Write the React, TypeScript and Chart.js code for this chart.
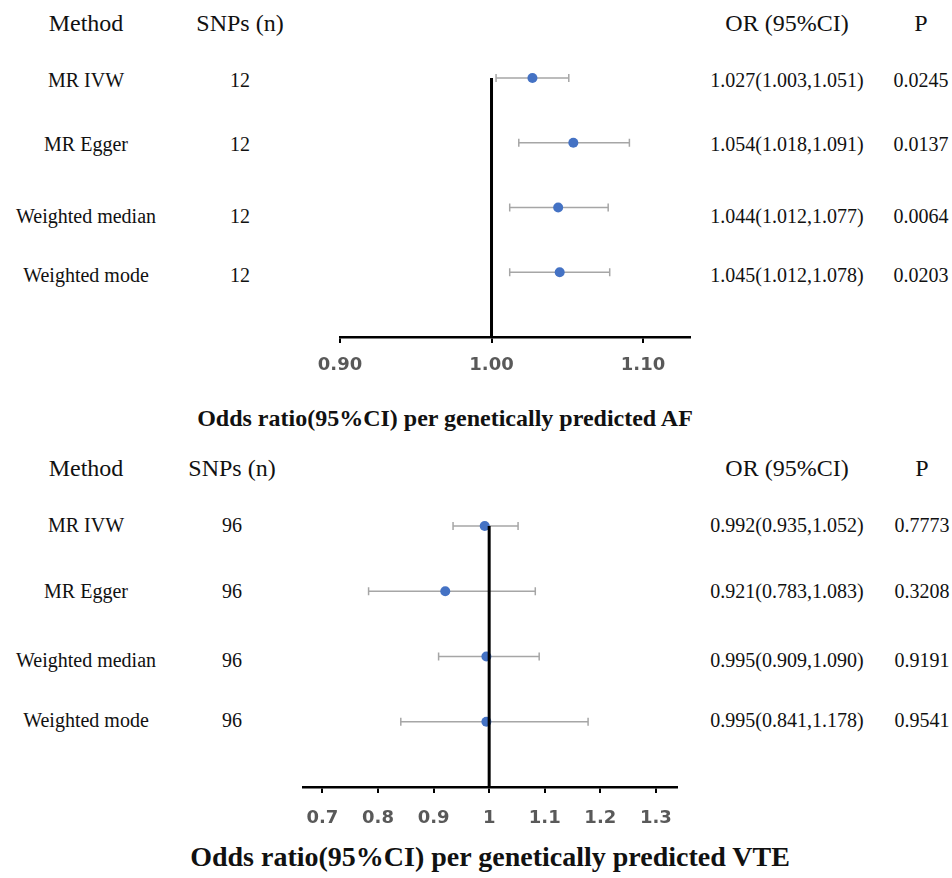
import { useEffect, useRef } from 'react';
import { Chart, registerables } from 'chart.js';

Chart.register(...registerables);

// ---------- data ----------
const methods = ['MR IVW', 'MR Egger', 'Weighted median', 'Weighted mode'];

const afSnps = ['12', '12', '12', '12'];
const afOr = [1.027, 1.054, 1.044, 1.045];
const afLower = [1.003, 1.018, 1.012, 1.012];
const afUpper = [1.051, 1.091, 1.077, 1.078];
const afOrText = ['1.027(1.003,1.051)', '1.054(1.018,1.091)', '1.044(1.012,1.077)', '1.045(1.012,1.078)'];
const afP = ['0.0245', '0.0137', '0.0064', '0.0203'];
const afTicks = [0.9, 1.0, 1.1];
const afTickLabels = ['0.90', '1.00', '1.10'];
const afTitle = 'Odds ratio(95%CI) per genetically predicted AF';

const vteSnps = ['96', '96', '96', '96'];
const vteOr = [0.992, 0.921, 0.995, 0.995];
const vteLower = [0.935, 0.783, 0.909, 0.841];
const vteUpper = [1.052, 1.083, 1.09, 1.178];
const vteOrText = ['0.992(0.935,1.052)', '0.921(0.783,1.083)', '0.995(0.909,1.090)', '0.995(0.841,1.178)'];
const vteP = ['0.7773', '0.3208', '0.9191', '0.9541'];
const vteTicks = [0.7, 0.8, 0.9, 1, 1.1, 1.2, 1.3];
const vteTickLabels = ['0.7', '0.8', '0.9', '1', '1.1', '1.2', '1.3'];
const vteTitle = 'Odds ratio(95%CI) per genetically predicted VTE';

const headers = ['Method', 'SNPs (n)', 'OR (95%CI)', 'P'];

// ---------- chart config ----------
function makeConfig(
  or: number[], lo: number[], hi: number[],
  ticks: number[], labels: string[],
  xMin: number, xMax: number,
  padTop: number, padRight: number, labelPad: number
): any {
  return {
    type: 'scatter',
    data: {
      datasets: [
        {
          data: [{ x: 1, y: 0 }, { x: 1, y: 4 }],
          showLine: true,
          borderColor: '#000',
          borderWidth: 3,
          pointRadius: 0,
          clip: false,
          order: 0,
        },
        {
          data: or.map((v, i) => ({ x: v, y: i })),
          showLine: false,
          pointRadius: 5,
          pointBackgroundColor: '#4472C4',
          pointBorderColor: '#4472C4',
          pointBorderWidth: 0,
          clip: false,
          order: 1,
        },
        ...lo.map((l, i) => ({
          data: [{ x: l, y: i }, { x: hi[i], y: i }],
          showLine: true,
          borderColor: '#A6A6A6',
          borderWidth: 1.5,
          pointStyle: 'line',
          rotation: 90,
          pointRadius: 4,
          pointBorderColor: '#A6A6A6',
          pointBorderWidth: 1.5,
          clip: false,
          order: 2,
        })),
      ],
    },
    options: {
      responsive: false,
      maintainAspectRatio: false,
      animation: false,
      events: [],
      layout: { padding: { left: 40, right: padRight, top: padTop, bottom: 0 } },
      plugins: { legend: { display: false }, tooltip: { enabled: false } },
      scales: {
        x: {
          type: 'linear',
          min: xMin,
          max: xMax,
          afterBuildTicks: (s: any) => {
            s.ticks = ticks.map((v) => ({ value: v }));
          },
          afterFit: (s: any) => {
            s.height = 50;
          },
          ticks: {
            callback: (_v: any, i: number) => labels[i],
            color: '#595959',
            font: { family: 'DejaVu Sans', weight: 'bold', size: 18 },
            padding: labelPad,
            autoSkip: false,
            maxRotation: 0,
          },
          grid: {
            display: true,
            drawOnChartArea: false,
            drawTicks: true,
            tickLength: 6,
            color: '#000',
            lineWidth: 2,
          },
          border: { display: true, color: '#000', width: 2.5 },
        },
        y: { type: 'linear', min: 0, max: 4, reverse: true, display: false },
      },
    },
  };
}

function ChartCanvas(props: { config: any; left: number; top: number; width: number; height: number }) {
  const ref = useRef<HTMLCanvasElement | null>(null);
  useEffect(() => {
    if (!ref.current) return;
    const chart = new Chart(ref.current, props.config);
    return () => chart.destroy();
  }, []);
  return (
    <canvas
      ref={ref}
      width={props.width}
      height={props.height}
      style={{ position: 'absolute', left: props.left, top: props.top, width: props.width, height: props.height }}
    />
  );
}

function Txt(props: { x: number; y: number; size: number; bold?: boolean; children: any }) {
  return (
    <span
      style={{
        position: 'absolute',
        left: props.x,
        top: props.y,
        transform: 'translate(-50%, -50%)',
        whiteSpace: 'nowrap',
        fontFamily: '"Liberation Serif", "Times New Roman", serif',
        fontSize: props.size,
        fontWeight: props.bold ? 'bold' : 'normal',
        lineHeight: 1,
        color: '#111',
      }}
    >
      {props.children}
    </span>
  );
}

function Table(props: {
  cols: number[]; headerY: number; rowsY: number[];
  snps: string[]; orText: string[]; p: string[];
}) {
  const { cols, headerY, rowsY } = props;
  return (
    <>
      {headers.map((h, i) => (
        <Txt key={'h' + i} x={cols[i]} y={headerY} size={24}>{h}</Txt>
      ))}
      {methods.map((m, i) => (
        <span key={'r' + i}>
          <Txt x={cols[0]} y={rowsY[i]} size={20}>{m}</Txt>
          <Txt x={cols[1]} y={rowsY[i]} size={20}>{props.snps[i]}</Txt>
          <Txt x={cols[2]} y={rowsY[i]} size={20}>{props.orText[i]}</Txt>
          <Txt x={cols[3]} y={rowsY[i]} size={20}>{props.p[i]}</Txt>
        </span>
      ))}
    </>
  );
}

export default function App() {
  const afConfig = makeConfig(afOr, afLower, afUpper, afTicks, afTickLabels, 0.9, 1.131, 38, 30, 12);
  const vteConfig = makeConfig(vteOr, vteLower, vteUpper, vteTicks, vteTickLabels, 0.665, 1.338, 40, 40, 15);
  return (
    <div style={{ position: 'absolute', left: 0, top: 0, width: 952, height: 878, background: '#fff', overflow: 'hidden' }}>
      <Table cols={[86, 240, 787, 921]} headerY={23} rowsY={[80, 144, 216, 275]} snps={afSnps} orText={afOrText} p={afP} />
      <ChartCanvas config={afConfig} left={300} top={40} width={420} height={347} />
      <Txt x={445} y={418} size={24} bold>{afTitle}</Txt>

      <Table cols={[86, 232, 787, 922]} headerY={468} rowsY={[525, 591, 660, 720]} snps={vteSnps} orText={vteOrText} p={vteP} />
      <ChartCanvas config={vteConfig} left={263} top={486} width={454} height={351} />
      <Txt x={490} y={857} size={28} bold>{vteTitle}</Txt>
    </div>
  );
}
